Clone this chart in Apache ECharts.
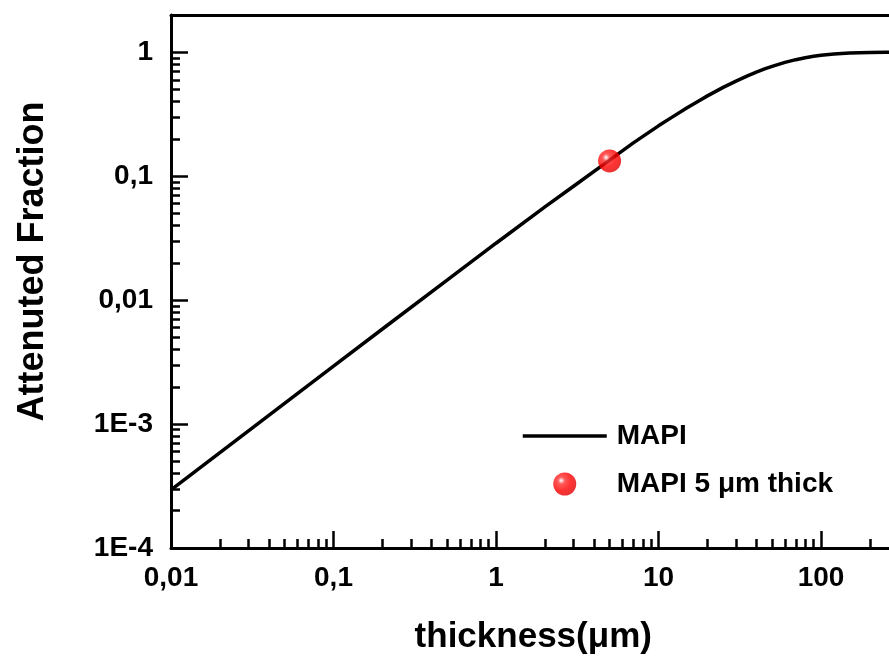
<!DOCTYPE html>
<html><head><meta charset="utf-8">
<script src="https://cdn.jsdelivr.net/npm/echarts@6/dist/echarts.min.js"></script>
<style>html,body{margin:0;padding:0;background:#fff}#c{width:889px;height:660px}</style>
</head><body><div id="c"></div>
<script>
// ---- data ----
const thickness = [0.01,0.02,0.05,0.1,0.2,0.5,1,2,3,5,7,10,12,15,18,20,25,30,35,40,45,50,60,70,80,90,100,120,150,200,250,300,500,1000];
const fraction  = [2.94e-4,5.88e-4,1.47e-3,2.93e-3,5.85e-3,0.0145,0.0288,0.0565,0.083,0.135,0.186,0.255,0.297,0.357,0.411,0.445,0.521,0.586,0.643,0.692,0.734,0.77,0.829,0.872,0.905,0.929,0.947,0.971,0.988,0.997,0.999,1.0,1.0,1.0];
const pointThickness = [5];
const pointFraction  = [0.133];
const xTickValues = [0.01,0.1,1,10,100,1000];
const xTickLabels = ['0,01','0,1','1','10','100','1000'];
const yTickValues = [1e-4,1e-3,0.01,0.1,1];
const yTickLabels = ['1E-4','1E-3','0,01','0,1','1'];
const minorMultipliers = [2,3,4,5,6,7,8,9];
const xDecades = [0.01,0.1,1,10,100];
const yDecades = [1e-4,1e-3,0.01,0.1,1];

const FONT = '"Liberation Sans", Arial, sans-serif';
function labelFor(values, labels){
  return function(v){
    for (let i=0;i<values.length;i++){ if (Math.abs(Math.log10(v)-Math.log10(values[i]))<1e-6) return labels[i]; }
    return '';
  };
}
const xMinorLog = [], yMinorLog = [];
xDecades.forEach(d=>minorMultipliers.forEach(m=>xMinorLog.push(Math.log10(d*m))));
yDecades.forEach(d=>minorMultipliers.forEach(m=>{ if (d*m<=2) yMinorLog.push(Math.log10(d*m)); }));

const XMIN=0.01, XMAX=1000, YMIN=1e-4, YMAX=2;
const lineData = thickness.map((t,i)=>[t,fraction[i]]);
const pointData = pointThickness.map((t,i)=>[t,pointFraction[i]]);

const labelStyle = {color:'#000', fontSize:28, fontWeight:'bold', fontFamily:FONT};
const chart = echarts.init(document.getElementById('c'), null, {renderer:'canvas'});
chart.setOption({
  animation:false,
  backgroundColor:'#fff',
  grid:{left:171, top:15, width:812.5, height:533, containLabel:false, outerBoundsMode:'none'},
  legend:{
    orient:'vertical', left:516, top:417, itemWidth:84, itemHeight:23, itemGap:20,
    textStyle:{...labelStyle, padding:[0,0,0,5]},
    data:[{name:'MAPI', itemStyle:{opacity:0}, lineStyle:{width:3.5, color:'#000'}},{name:'MAPI 5 μm thick'}]
  },
  xAxis:[
    {type:'log', logBase:10, min:XMIN, max:XMAX, position:'bottom',
     axisLine:{onZero:false, lineStyle:{color:'#000', width:3}},
     axisTick:{inside:true, length:17, lineStyle:{color:'#000', width:2.5}},
     axisLabel:{...labelStyle, margin:16, formatter:labelFor(xTickValues,xTickLabels)},
     splitLine:{show:false}, minorTick:{show:false},
     name:'thickness(μm)', nameLocation:'middle', nameGap:72,
     nameTextStyle:{color:'#000', fontSize:35, fontWeight:'bold', fontFamily:FONT, padding:[0,88,0,0]}},
    {type:'value', min:Math.log10(XMIN), max:Math.log10(XMAX), position:'bottom',
     axisLine:{show:false, onZero:false},
     axisTick:{inside:true, length:9, customValues:xMinorLog, lineStyle:{color:'#000', width:2.5}},
     axisLabel:{show:false}, splitLine:{show:false}},
    {type:'value', min:0, max:1, position:'top',
     axisLine:{onZero:false, lineStyle:{color:'#000', width:3}}, axisTick:{show:false},
     axisLabel:{show:false}, splitLine:{show:false}}
  ],
  yAxis:[
    {type:'log', logBase:10, min:YMIN, max:YMAX, position:'left',
     axisLine:{onZero:false, lineStyle:{color:'#000', width:3}},
     axisTick:{inside:true, length:17, lineStyle:{color:'#000', width:2.5}},
     axisLabel:{...labelStyle, margin:18, formatter:labelFor(yTickValues,yTickLabels)},
     splitLine:{show:false}, minorTick:{show:false},
     name:'Attenuted Fraction', nameLocation:'middle', nameGap:120, nameRotate:90,
     nameTextStyle:{color:'#000', fontSize:36, fontWeight:'bold', fontFamily:FONT, padding:[0,0,0,40]}},
    {type:'value', min:Math.log10(YMIN), max:Math.log10(YMAX), position:'left',
     axisLine:{show:false, onZero:false},
     axisTick:{inside:true, length:9, customValues:yMinorLog, lineStyle:{color:'#000', width:2.5}},
     axisLabel:{show:false}, splitLine:{show:false}}
  ],
  series:[
    {name:'MAPI', type:'line', xAxisIndex:0, yAxisIndex:0, data:lineData,
     symbol:'none', smooth:false,
     lineStyle:{color:'#000', width:3.5}, itemStyle:{color:'rgba(0,0,0,0)'}, z:3},
    {name:'MAPI 5 μm thick', type:'scatter', xAxisIndex:0, yAxisIndex:0, data:pointData,
     symbol:'circle', symbolSize:23,
     itemStyle:{color:{type:'radial', x:0.35, y:0.35, r:0.7,
       colorStops:[{offset:0,color:'#ffffff'},{offset:0.22,color:'#ff3030'},{offset:0.6,color:'#ff0000'},{offset:1,color:'#e00000'}]}},
     z:5}
  ]
});
</script></body></html>
